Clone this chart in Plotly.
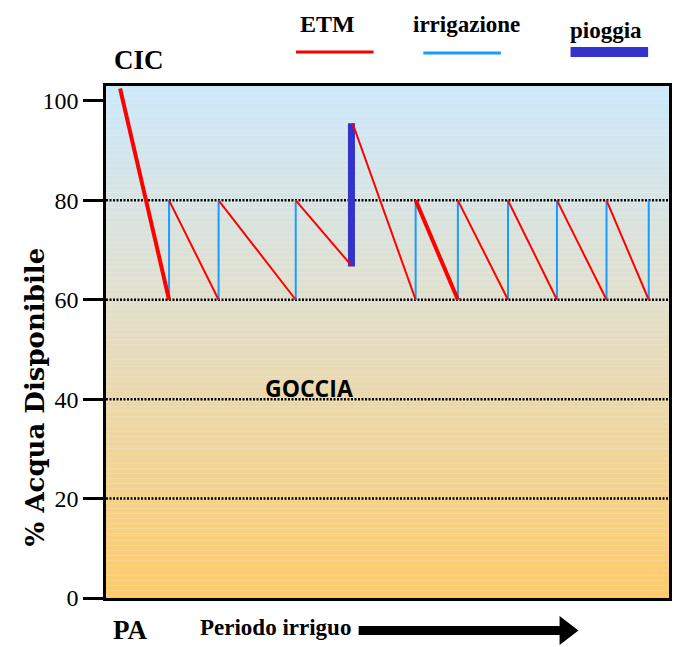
import plotly.graph_objects as go

# ---------------- data ----------------
# ETM (evapotranspiration) segments: start (x, y) -> end (x, y); x = time along the irrigation period
etm_x0 = [2.5, 11.2, 20.0, 33.7, 43.8, 55.0, 62.5, 71.4, 80.1, 88.9]
etm_y0 = [102.5, 80, 80, 80, 95.5, 80, 80, 80, 80, 80]
etm_x1 = [11.2, 20.0, 33.7, 43.5, 55.0, 62.5, 71.4, 80.1, 88.9, 96.4]
etm_y1 = [60, 60, 60, 67, 60, 60, 60, 60, 60, 60]

# irrigation events: time, from level, to level
irrig_x = [11.2, 20.0, 33.7, 55.0, 62.5, 71.4, 80.1, 88.9, 96.4]
irrig_from = [60, 60, 60, 60, 60, 60, 60, 60, 60]
irrig_to = [80, 80, 80, 80, 80, 80, 80, 80, 80]

# rain event
rain_x = [43.6]
rain_from = [66.7]
rain_to = [95.5]

grid_levels = [20, 40, 60, 80]
tick_vals = [0, 20, 40, 60, 80, 100]
tick_text = ["0", "20", "40", "60", "80", "100"]

# ---------------- styling ----------------
W, H = 674, 647
L, R, T, B = 106, 2, 86, 49
YMAX = 103
THICK = {0, 5}
RED = "#FF0000"
BLUE = "#1A9CFF"
RAIN = "#3333CC"
SERIF = "Liberation Serif"


def px(x, y):
    """screen pixel position -> paper coords"""
    return (x - L) / (W - L - R), (H - B - y) / (H - T - B)


def seg_xy(idx):
    xs, ys = [], []
    for i in idx:
        xs += [etm_x0[i], etm_x1[i], None]
        ys += [etm_y0[i], etm_y1[i], None]
    return xs, ys


fig = go.Figure()

thin_idx = [i for i in range(len(etm_x0)) if i not in THICK]
thick_idx = [i for i in range(len(etm_x0)) if i in THICK]

ix, iy = [], []
for x, a, b in zip(irrig_x, irrig_from, irrig_to):
    ix += [x, x, None]
    iy += [a, b, None]
fig.add_trace(go.Scatter(x=ix, y=iy, mode="lines", line=dict(color=BLUE, width=2),
                         hoverinfo="skip", showlegend=False))

rx, ry = [], []
for x, a, b in zip(rain_x, rain_from, rain_to):
    rx += [x, x, None]
    ry += [a, b, None]
fig.add_trace(go.Scatter(x=rx, y=ry, mode="lines", line=dict(color=RAIN, width=7),
                         hoverinfo="skip", showlegend=False))

x, y = seg_xy(thin_idx)
fig.add_trace(go.Scatter(x=x, y=y, mode="lines", line=dict(color=RED, width=2),
                         hoverinfo="skip", showlegend=False))
x, y = seg_xy(thick_idx)
fig.add_trace(go.Scatter(x=x, y=y, mode="lines", line=dict(color=RED, width=4),
                         hoverinfo="skip", showlegend=False))

shapes = []
# background gradient
stops = [(0, (254, 203, 106)), (60, (225, 223, 205)), (YMAX, (204, 233, 251))]


def col(v):
    for (v0, c0), (v1, c1) in zip(stops[:-1], stops[1:]):
        if v0 <= v <= v1:
            t = (v - v0) / (v1 - v0)
            return "rgb(%d,%d,%d)" % tuple(round(c0[k] + (c1[k] - c0[k]) * t) for k in range(3))
    return "rgb(204,233,251)"


step = 0.5
v = 0.0
while v < YMAX:
    shapes.append(dict(type="rect", xref="paper", yref="y", x0=0, x1=1, y0=v, y1=v + step + 0.05,
                       fillcolor=col(v + step / 2), line=dict(width=0), layer="below"))
    v += step

for g in grid_levels:
    shapes.append(dict(type="line", xref="paper", yref="y", x0=0, x1=1, y0=g, y1=g,
                       line=dict(color="black", width=2.5, dash="2px,1.5px"), layer="below"))

# legend marks
for (x0, x1, yy, c, w) in [(297, 375, 52, RED, 3), (425, 503, 53, BLUE, 3), (573, 651, 52, RAIN, 10)]:
    a0, b0 = px(x0, yy)
    a1, _ = px(x1, yy)
    shapes.append(dict(type="line", xref="paper", yref="paper", x0=a0, x1=a1, y0=b0, y1=b0,
                       line=dict(color=c, width=w)))

# arrow
pts = [(360, 626), (562, 626), (562, 616), (581, 630.5), (562, 645), (562, 635), (360, 635)]
path = "M " + " L ".join("%.5f,%.5f" % px(a, b) for a, b in pts) + " Z"
shapes.append(dict(type="path", xref="paper", yref="paper", path=path,
                   fillcolor="black", line=dict(color="black", width=0)))

annotations = []


def text(t, x, y, size, family=SERIF, angle=0):
    a, b = px(x, y)
    annotations.append(dict(text="<b>%s</b>" % t, x=a, y=b, xref="paper", yref="paper",
                            showarrow=False, textangle=angle, xanchor="center", yanchor="middle",
                            font=dict(family=family, size=size, color="black")))


text("ETM", 329, 24, 24)
text("irrigazione", 468, 24, 23)
text("pioggia", 609, 30, 23)
text("CIC", 139, 60, 27)
text("PA", 130, 630, 27)
text("Periodo irriguo", 276, 627, 23)
text("GOCCIA", 310, 388, 23, family="Open Sans")
text("% Acqua Disponibile", 35, 397, 26, family="DejaVu Serif", angle=-90)

fig.update_layout(
    width=W, height=H,
    margin=dict(l=L, r=R, t=T, b=B),
    paper_bgcolor="white", plot_bgcolor="white",
    shapes=shapes, annotations=annotations,
    showlegend=False,
    xaxis=dict(range=[0, 100], showgrid=False, zeroline=False, showticklabels=False,
               ticks="", showline=True, linecolor="black", linewidth=2.5, mirror=True),
    yaxis=dict(range=[0, YMAX], showgrid=False, zeroline=False, tickvals=tick_vals,
               ticktext=tick_text, ticks="outside", ticklen=20, tickwidth=3, tickcolor="black",
               tickfont=dict(family=SERIF, size=24, color="black"),
               showline=True, linecolor="black", linewidth=2.5, mirror=True),
)

fig.write_html("out.html",
               config={"displayModeBar": False},
               post_script="document.body.style.margin='0';document.body.style.overflow='hidden';")
